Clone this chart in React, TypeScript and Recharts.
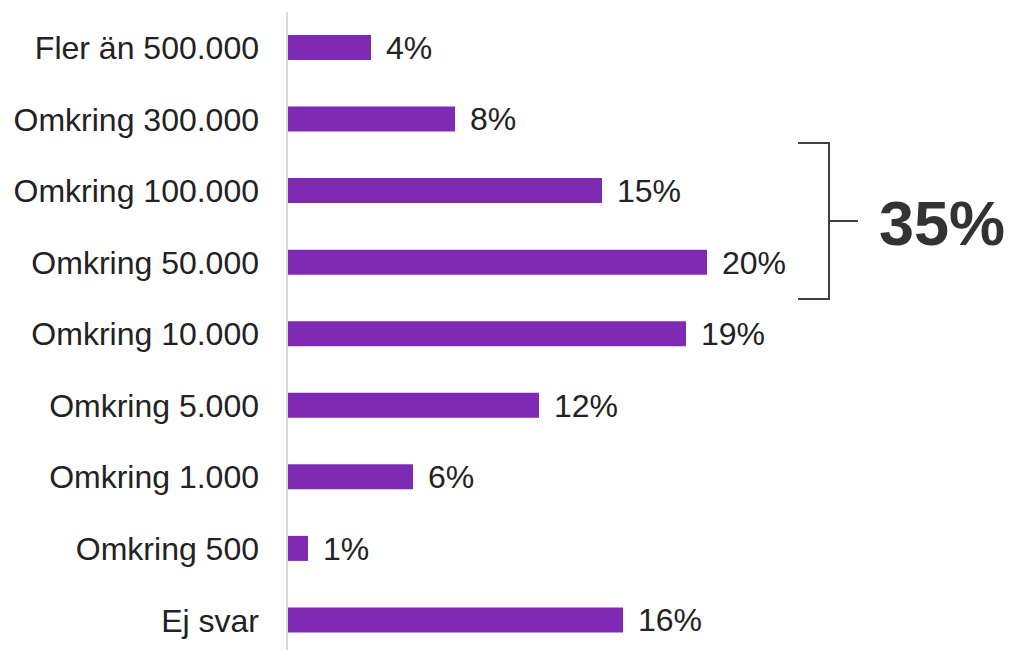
import { BarChart, Bar, XAxis, YAxis, LabelList, Customized } from 'recharts'

const categories = [
  'Fler än 500.000',
  'Omkring 300.000',
  'Omkring 100.000',
  'Omkring 50.000',
  'Omkring 10.000',
  'Omkring 5.000',
  'Omkring 1.000',
  'Omkring 500',
  'Ej svar',
]
const shares = [4, 8, 15, 20, 19, 12, 6, 1, 16]
const bracketLabel = '35%'

const data = categories.map((label, i) => ({ label, value: shares[i] }))

const FONT = 'Liberation Sans, Arial, sans-serif'

// bracket grouping the 100.000 and 50.000 rows
function Bracket() {
  const stroke = '#404040'
  return (
    <g>
      <path d="M798,143 H829 V299 H798" fill="none" stroke={stroke} strokeWidth={2} />
      <line x1={829} y1={221} x2={858} y2={221} stroke={stroke} strokeWidth={2} />
      <text
        x={879}
        y={223}
        dy="0.355em"
        fontFamily={FONT}
        fontWeight={700}
        fontSize={63}
        fill="#333333"
      >
        {bracketLabel}
      </text>
    </g>
  )
}

export default function App() {
  return (
    <div style={{ position: 'absolute', left: 0, top: 0, width: 1010, height: 650, overflow: 'hidden', background: '#fff' }}>
      <BarChart
        width={1010}
        height={656}
        data={data}
        layout="vertical"
        margin={{ top: 12, right: 198, bottom: 0, left: 0 }}
      >
        <XAxis type="number" domain={[0, 25]} hide />
        <YAxis
          type="category"
          dataKey="label"
          width={287}
          tickLine={false}
          tickSize={6}
          tickMargin={22}
          axisLine={{ stroke: '#d9d9d9', strokeWidth: 2 }}
          tick={{ fontSize: 32, fill: '#222222', fontFamily: FONT }}
          interval={0}
        />
        <Bar dataKey="value" fill="#7f2ab4" barSize={25} isAnimationActive={false}>
          <LabelList
            dataKey="value"
            position="right"
            offset={15}
            formatter={(v: number) => `${v}%`}
            style={{ fontSize: 32, fill: '#222222', fontFamily: FONT }}
          />
        </Bar>
        <Customized component={Bracket} />
      </BarChart>
    </div>
  )
}
